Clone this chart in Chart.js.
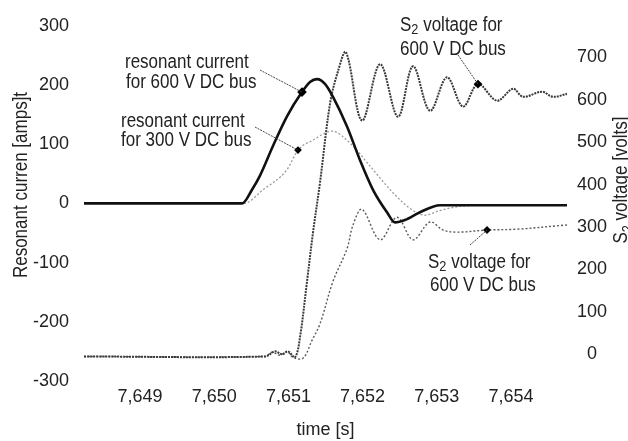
<!DOCTYPE html>
<html>
<head>
<meta charset="utf-8">
<script src="https://cdn.jsdelivr.net/npm/chart.js@4"></script>
<style>
  body { margin: 0; background: #fff; }
  #wrap { width: 628px; height: 441px; }
</style>
</head>
<body>
<div id="wrap"><canvas id="chart" width="628" height="441"></canvas></div>
<script>
const FONT = '"Liberation Sans", Arial, sans-serif';
const INK = '#222';
const SQUEEZE = 0.85; // the figure uses a condensed face

// axis ticks
const xTicks = [7649, 7650, 7651, 7652, 7653, 7654];
const xTickLabels = ['7,649', '7,650', '7,651', '7,652', '7,653', '7,654'];
const currentTicks = [-300, -200, -100, 0, 100, 200, 300];
const voltageTicks = [0, 100, 200, 300, 400, 500, 600, 700];

// resonant current, 600 V DC bus (amps)
const t600I = [7648.245, 7650.375, 7650.509, 7650.617, 7650.792, 7650.981, 7651.183, 7651.291, 7651.385,
  7651.493, 7651.601, 7651.790, 7651.965, 7652.140, 7652.329, 7652.437, 7652.571, 7652.774, 7653.043, 7654.755];
const i600 = [0, 0, 23, 47, 97, 147, 188, 205, 210, 202, 180, 130, 73, 23, -15, -32, -28, -15, -3, -3];

// resonant current, 300 V DC bus (amps)
const t300I = [7648.245, 7650.402, 7650.658, 7650.981, 7651.129, 7651.332, 7651.588, 7651.830, 7652.100,
  7652.410, 7652.679, 7652.841, 7653.043, 7653.313, 7653.582, 7654.755];
const i300 = [0, 0, 23, 57, 90, 107, 122, 102, 63, 18, -12, -20, -12, -5, -3, -3];

// S2 voltage, 600 V DC bus (volts)
const t600V = [7648.245, 7650.685, 7650.819, 7650.914, 7650.995, 7651.089, 7651.156, 7651.251, 7651.332,
  7651.426, 7651.561, 7651.668, 7651.776, 7651.992, 7652.235, 7652.477, 7652.679, 7652.908, 7653.137,
  7653.353, 7653.555, 7653.811, 7654.027, 7654.162, 7654.418, 7654.566, 7654.755];
const v600 = [-5, -5, 7, 0, 7, -7, 40, 172, 288, 405, 591, 667, 712, 551, 684, 560, 679, 574, 653,
  584, 637, 598, 626, 607, 619, 607, 614];

// S2 voltage, 300 V DC bus (volts)
const t300V = [7648.245, 7650.685, 7650.779, 7650.887, 7650.981, 7651.062, 7651.197, 7651.318, 7651.426,
  7651.601, 7651.790, 7651.871, 7651.992, 7652.235, 7652.464, 7652.679, 7652.908, 7653.084, 7653.272,
  7653.677, 7654.081, 7654.755];
const v300 = [-5, -5, 5, -2, 7, -7, -9, 33, 72, 172, 249, 305, 342, 270, 323, 270, 312, 293, 288,
  293, 295, 305];

const pairs = (xs, ys) => xs.map((x, i) => ({ x: x, y: ys[i] }));
const marker = idx => ctx => ctx.dataIndex === idx ? 3 : 0;

function series(label, xs, ys, axis, color, width, dash, markIdx, smooth) {
  return {
    label: label,
    data: pairs(xs, ys),
    yAxisID: axis,
    borderColor: color,
    borderWidth: width,
    borderDash: dash,
    cubicInterpolationMode: smooth ? 'default' : 'monotone',
    tension: smooth ? 0.35 : 0,
    pointRadius: marker(markIdx),
    pointStyle: 'rectRot',
    pointBackgroundColor: '#000',
    pointBorderColor: '#000',
    fill: false
  };
}

// condensed text, parts = [[text, isSubscript], ...]
function drawText(ctx, parts, x, y, align) {
  ctx.save();
  ctx.translate(x, y);
  ctx.scale(SQUEEZE, 1);
  let total = 0;
  parts.forEach(p => {
    ctx.font = (p[1] ? '15px ' : '20px ') + FONT;
    total += ctx.measureText(p[0]).width;
  });
  let cx = align === 'center' ? -total / 2 : 0;
  ctx.textAlign = 'left';
  parts.forEach(p => {
    ctx.font = (p[1] ? '15px ' : '20px ') + FONT;
    ctx.fillText(p[0], cx, p[1] ? 5 : 0);
    cx += ctx.measureText(p[0]).width;
  });
  ctx.restore();
}

const callouts = {
  id: 'callouts',
  afterDatasetsDraw(chart) {
    const ctx = chart.ctx;
    const sx = chart.scales.x, sy = chart.scales.y, sy2 = chart.scales.y2;
    ctx.save();
    // leader lines to the marked points
    const leaders = [
      [260, 70, sx.getPixelForValue(t600I[6]), sy.getPixelForValue(i600[6])],
      [255, 127, sx.getPixelForValue(t300I[4]), sy.getPixelForValue(i300[4])],
      [458, 55, sx.getPixelForValue(t600V[20]), sy2.getPixelForValue(v600[20])],
      [470, 245, sx.getPixelForValue(t300V[19]), sy2.getPixelForValue(v300[19])]
    ];
    ctx.strokeStyle = '#444';
    ctx.lineWidth = 1;
    ctx.setLineDash([2, 1]);
    leaders.forEach(l => {
      ctx.beginPath();
      ctx.moveTo(l[0], l[1]);
      ctx.lineTo(l[2], l[3]);
      ctx.stroke();
    });
    ctx.setLineDash([]);

    ctx.fillStyle = INK;
    ctx.textBaseline = 'middle';
    drawText(ctx, [['resonant current', false]], 125, 62);
    drawText(ctx, [['for 600 V DC bus', false]], 126, 82);
    drawText(ctx, [['resonant current', false]], 121, 121);
    drawText(ctx, [['for 300 V DC bus', false]], 121, 140);
    drawText(ctx, [['S', false], ['2', true], [' voltage for', false]], 400, 25);
    drawText(ctx, [['600 V DC bus', false]], 400, 49);
    drawText(ctx, [['S', false], ['2', true], [' voltage for', false]], 428, 262);
    drawText(ctx, [['600 V DC bus', false]], 430, 285);

    // y axis titles
    ctx.textBaseline = 'alphabetic';
    ctx.save();
    ctx.translate(27, 185);
    ctx.rotate(-Math.PI / 2);
    drawText(ctx, [['Resonant curren [amps]t', false]], 0, 0, 'center');
    ctx.restore();

    ctx.save();
    ctx.translate(627, 180);
    ctx.rotate(-Math.PI / 2);
    drawText(ctx, [['S', false], ['2', true], [' voltage [volts]', false]], 0, 0, 'center');
    ctx.restore();
    ctx.restore();
  }
};

const tickFont = { family: FONT, size: 18 };

new Chart(document.getElementById('chart'), {
  type: 'line',
  data: {
    datasets: [
      series('resonant current for 600 V DC bus', t600I, i600, 'y', '#111', 2.6, [], 6, false),
      series('resonant current for 300 V DC bus', t300I, i300, 'y', '#9a9a9a', 1.3, [2, 2], 4, false),
      series('S2 voltage for 600 V DC bus', t600V, v600, 'y2', '#3a3a3a', 2, [2, 1], 20, true),
      series('S2 voltage for 300 V DC bus', t300V, v300, 'y2', '#5a5a5a', 1.4, [2, 2], 19, true)
    ]
  },
  options: {
    responsive: false,
    animation: false,
    layout: { padding: { top: 21, left: 0, right: 0, bottom: 0 } },
    plugins: { legend: { display: false }, tooltip: { enabled: false } },
    scales: {
      x: {
        type: 'linear',
        min: 7648.245,
        max: 7654.755,
        grid: { display: false, drawTicks: false },
        border: { display: false },
        afterBuildTicks: s => { s.ticks = xTicks.map(v => ({ value: v })); },
        afterFit: s => { s.height = 60; },
        ticks: {
          font: tickFont, color: INK, padding: 5, maxRotation: 0, autoSkip: false,
          callback: v => xTickLabels[xTicks.indexOf(v)]
        },
        title: { display: true, text: 'time [s]', font: { family: FONT, size: 18 }, color: INK, padding: 0 }
      },
      y: {
        position: 'left',
        min: -300,
        max: 300,
        grid: { display: false, drawTicks: false },
        border: { display: false },
        afterBuildTicks: s => { s.ticks = currentTicks.map(v => ({ value: v })); },
        afterFit: s => { s.width = 84; },
        ticks: { font: tickFont, color: INK, padding: 15 }
      },
      y2: {
        position: 'right',
        min: -62.8,
        max: 774.4,
        grid: { display: false, drawTicks: false },
        border: { display: false },
        afterBuildTicks: s => { s.ticks = voltageTicks.map(v => ({ value: v })); },
        afterFit: s => { s.width = 61; },
        ticks: { font: tickFont, color: INK, padding: 10, crossAlign: 'center' }
      }
    }
  },
  plugins: [callouts]
});
</script>
</body>
</html>
